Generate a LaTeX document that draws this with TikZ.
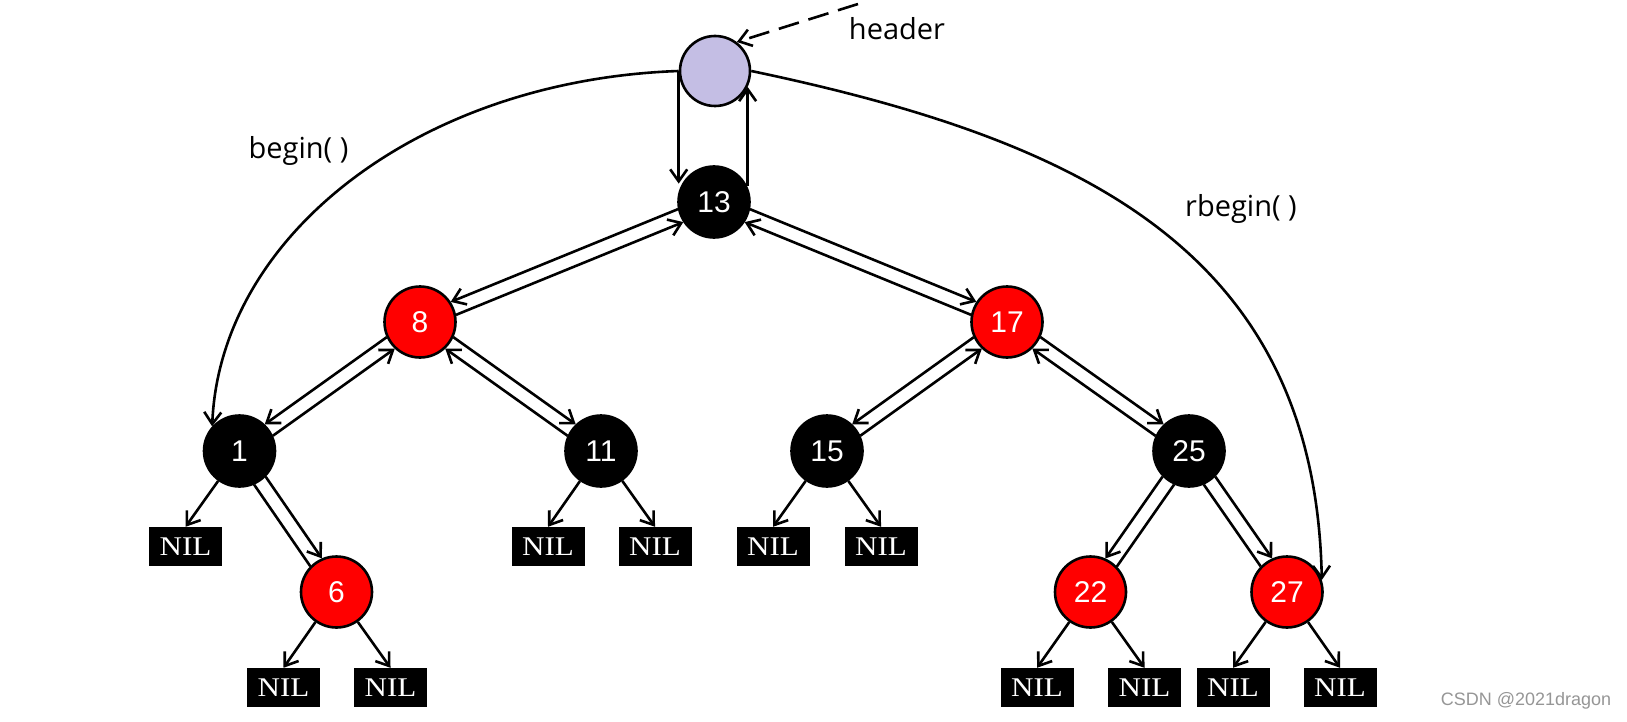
\documentclass[tikz,border=0pt]{standalone}
\usepackage{fontspec}
\newfontfamily\labfont{Open Sans}
\newfontfamily\numfont{Liberation Sans}
\newfontfamily\nilfont{Liberation Serif}
\usetikzlibrary{arrows.meta,calc}
\definecolor{hdr}{RGB}{196,190,228}
\definecolor{rbred}{RGB}{255,0,0}
\definecolor{wmgray}{RGB}{150,150,150}
\tikzset{
  link/.style={line width=2.6pt, draw=black},
  arr/.style={-{Straight Barb[length=12pt,width=17pt]}},
  rbnode/.style={circle, draw=black, line width=2.6pt, minimum size=71pt, inner sep=0pt,
    text=white, font=\numfont\fontsize{30}{30}\selectfont},
  blknode/.style={rbnode, fill=black},
  rednode/.style={rbnode, fill=rbred},
  hdrnode/.style={circle, draw=black, line width=2.6pt, fill=hdr, minimum size=70pt, inner sep=0pt},
  nilbox/.style={fill=black, text=white, minimum width=73pt, minimum height=39pt, inner sep=0pt,
    font=\nilfont\fontsize{27}{27}\selectfont},
  lab/.style={font=\labfont\fontsize{29}{29}\selectfont, inner sep=0pt},
}
\newcommand\twoway[5]{%
  \draw[link,arr,shorten <=36pt,shorten >=36pt]
    ($(#1.center)!7pt!#3:(#2.center)$) -- ($(#2.center)!7pt!#4:(#1.center)$);
  \draw[link,#5,shorten <=36pt,shorten >=36pt]
    ($(#2.center)!7pt!#3:(#1.center)$) -- ($(#1.center)!7pt!#4:(#2.center)$);
}
\newcommand\nilt{\scalebox{1.15}[1]{NIL}}
\begin{document}
\begin{tikzpicture}[x=1pt,y=-1pt]
\fill[white] (0,0) rectangle (1627,722);
\useasboundingbox (0,0) rectangle (1627,722);

% nodes
\node[hdrnode] (H) at (715,71) {};
\node[blknode] (n13) at (714,202) {13};
\node[rednode] (n8) at (420,322) {8};
\node[rednode] (n17) at (1007,322) {17};
\node[blknode] (n1) at (239.5,451) {1};
\node[blknode] (n11) at (601,451) {11};
\node[blknode] (n15) at (827,451) {15};
\node[blknode] (n25) at (1189,451) {25};
\node[rednode] (n6) at (336.5,592) {6};
\node[rednode] (n22) at (1090.5,592) {22};
\node[rednode] (n27) at (1287,592) {27};

\node[nilbox] (nA) at (185.5,546.5) {\nilt};
\node[nilbox] (nB) at (548,546.5) {\nilt};
\node[nilbox] (nC) at (655,546.5) {\nilt};
\node[nilbox] (nD) at (773,546.5) {\nilt};
\node[nilbox] (nE) at (881,546.5) {\nilt};
\node[nilbox] (nF) at (283.5,687.5) {\nilt};
\node[nilbox] (nG) at (390.5,687.5) {\nilt};
\node[nilbox] (nH) at (1037,687.5) {\nilt};
\node[nilbox] (nI) at (1144.5,687.5) {\nilt};
\node[nilbox] (nJ) at (1233,687.5) {\nilt};
\node[nilbox] (nK) at (1340,687.5) {\nilt};

% labels
\node[lab] (lh) at (897,29) {header};
\node[lab] (lb) at (298.5,151) {begin( )};
\node[lab] (lr) at (1241,208.5) {rbegin( )};
\node[font=\numfont\fontsize{18}{18}\selectfont, text=wmgray, inner sep=0pt] (wmk) at (1526,701) {CSDN @2021dragon};

% parent/child double links
\twoway{n13}{n8}{-90}{90}{arr}
\twoway{n13}{n17}{90}{-90}{arr}
\twoway{n8}{n1}{-90}{90}{arr}
\twoway{n8}{n11}{90}{-90}{arr}
\twoway{n17}{n15}{-90}{90}{arr}
\twoway{n17}{n25}{90}{-90}{arr}
\twoway{n1}{n6}{90}{-90}{}
\twoway{n25}{n22}{-90}{90}{}
\twoway{n25}{n27}{90}{-90}{}

% leaves
\draw[link,arr] (n1) -- (nA.north);
\draw[link,arr] (n11) -- (nB.north);
\draw[link,arr] (n11) -- (nC.north);
\draw[link,arr] (n15) -- (nD.north);
\draw[link,arr] (n15) -- (nE.north);
\draw[link,arr] (n6) -- (nF.north);
\draw[link,arr] (n6) -- (nG.north);
\draw[link,arr] (n22) -- (nH.north);
\draw[link,arr] (n22) -- (nI.north);
\draw[link,arr] (n27) -- (nJ.north);
\draw[link,arr] (n27) -- (nK.north);

% header links
\draw[link,arr] (H.west) -- (H.west |- n13.150);
\draw[link,arr] (H.-26 |- n13.25) -- (H.-26);
\draw[link,arr] (H.west) .. controls (420,80) and (220,235) .. (n1.138);
\draw[link,arr] (H.east) .. controls (1080,140) and (1315,250) .. (n27.19);
\coordinate (hs) at (858,4);
\draw[link,arr,dash pattern=on 21pt off 10pt] (hs) -- (H.53);
\end{tikzpicture}
\end{document}
